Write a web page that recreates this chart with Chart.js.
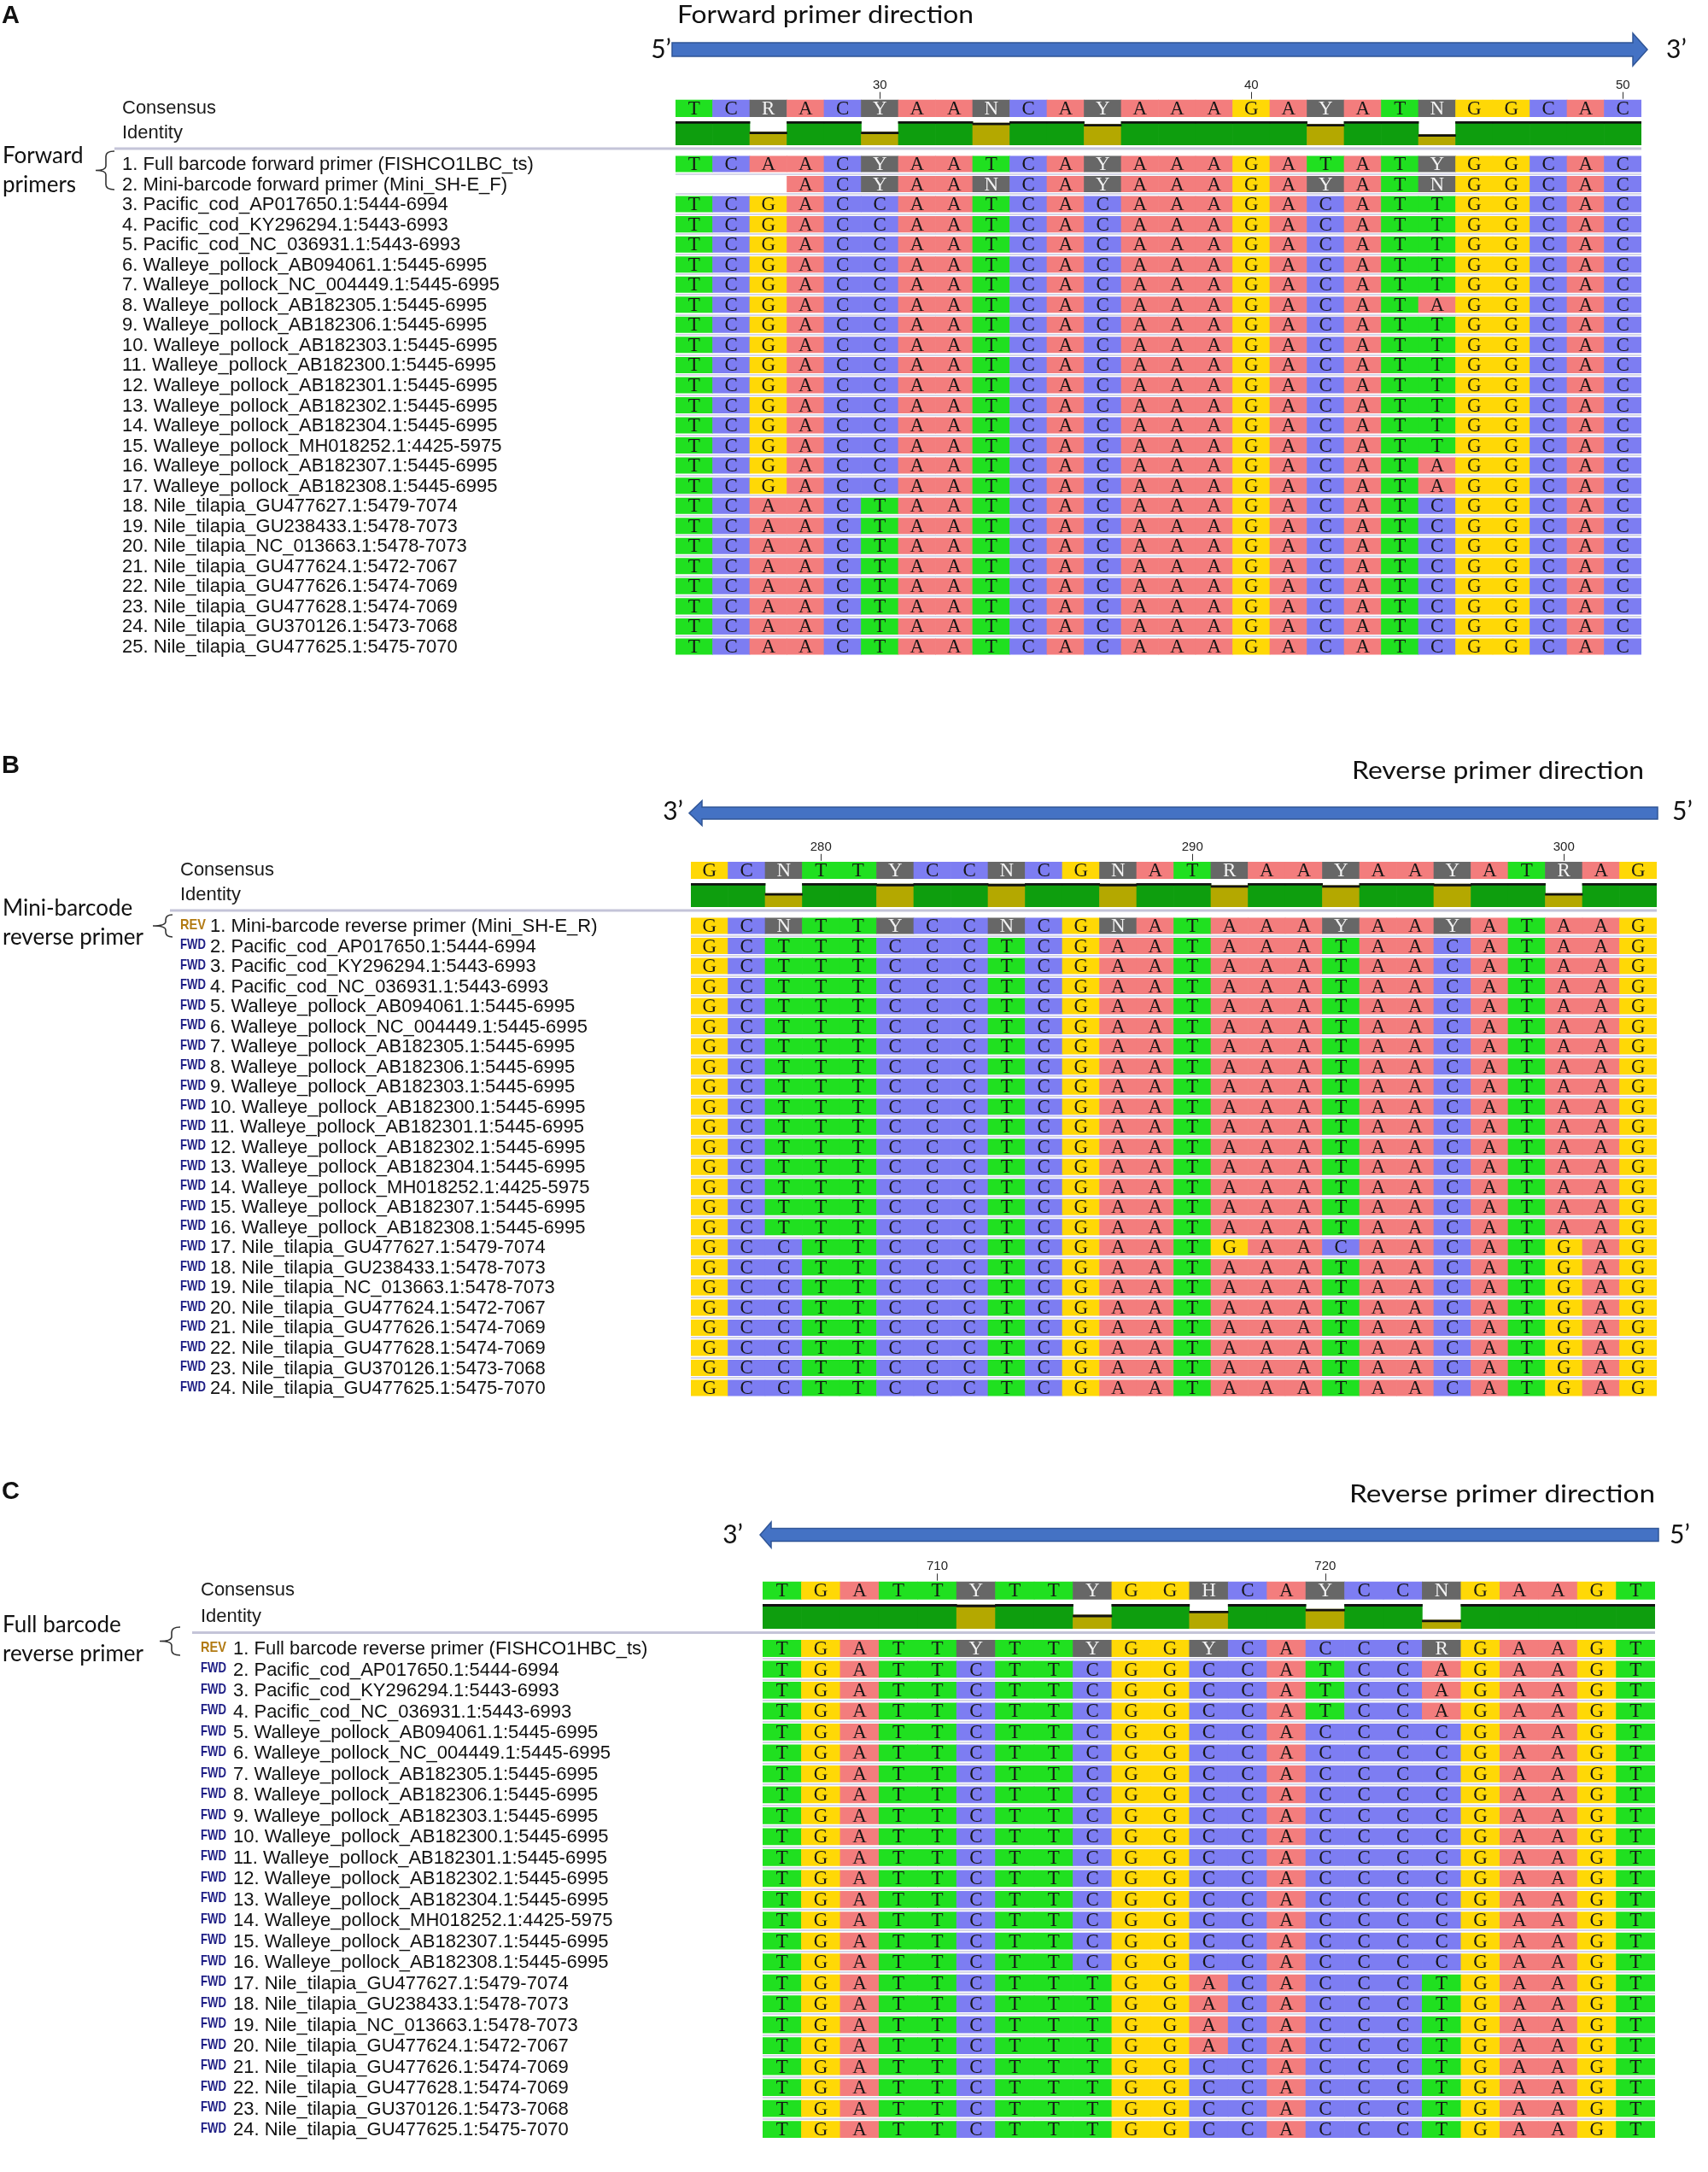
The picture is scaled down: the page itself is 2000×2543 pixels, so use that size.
<!DOCTYPE html>
<html>
<head>
<meta charset="utf-8">
<script src="https://cdn.jsdelivr.net/npm/chart.js@4"></script>
<style>
html, body { margin: 0; padding: 0; background: #fff; }
#page { position: relative; width: 2000px; height: 2543px; overflow: hidden; }
canvas { position: absolute; left: 0; }
</style>
</head>
<body>
<div id="page">
  <canvas id="chartA"></canvas>
  <canvas id="chartB"></canvas>
  <canvas id="chartC"></canvas>
</div>
<script>
// ---- data ----
const samples = [
    'Pacific_cod_AP017650.1:5444-6994', 'Pacific_cod_KY296294.1:5443-6993', 'Pacific_cod_NC_036931.1:5443-6993',
    'Walleye_pollock_AB094061.1:5445-6995', 'Walleye_pollock_NC_004449.1:5445-6995',
    'Walleye_pollock_AB182305.1:5445-6995', 'Walleye_pollock_AB182306.1:5445-6995',
    'Walleye_pollock_AB182303.1:5445-6995', 'Walleye_pollock_AB182300.1:5445-6995',
    'Walleye_pollock_AB182301.1:5445-6995', 'Walleye_pollock_AB182302.1:5445-6995',
    'Walleye_pollock_AB182304.1:5445-6995', 'Walleye_pollock_MH018252.1:4425-5975',
    'Walleye_pollock_AB182307.1:5445-6995', 'Walleye_pollock_AB182308.1:5445-6995',
    'Nile_tilapia_GU477627.1:5479-7074', 'Nile_tilapia_GU238433.1:5478-7073',
    'Nile_tilapia_NC_013663.1:5478-7073', 'Nile_tilapia_GU477624.1:5472-7067',
    'Nile_tilapia_GU477626.1:5474-7069', 'Nile_tilapia_GU477628.1:5474-7069',
    'Nile_tilapia_GU370126.1:5473-7068', 'Nile_tilapia_GU477625.1:5475-7070'
];
const namesA = ['Full barcode forward primer (FISHCO1LBC_ts)', 'Mini-barcode forward primer (Mini_SH-E_F)'].concat(samples);
const namesB = ['Mini-barcode reverse primer (Mini_SH-E_R)'].concat(samples);
const namesC = ['Full barcode reverse primer (FISHCO1HBC_ts)'].concat(samples);
const tagsA = [];
const tagsB = ['REV'].concat(samples.map(() => 'FWD'));
const tagsC = ['REV'].concat(samples.map(() => 'FWD'));

// panel A: forward primers, alignment positions 25-50
const colsA = [25, 26, 27, 28, 29, 30, 31, 32, 33, 34, 35, 36, 37, 38, 39, 40, 41, 42, 43, 44, 45, 46, 47, 48, 49, 50];
const ticksA = [30, 40, 50];
const consA = 'TCRACYAANCAYAAAGAYATNGGCAC';
const identA = [1, 1, 0.55, 1, 1, 0.55, 1, 1, 0.94, 1, 1, 0.88, 1, 1, 1, 1, 1, 0.88, 1, 1, 0.44, 1, 1, 1, 1, 1];
const seqA = [
    'TCAACYAATCAYAAAGATATYGGCAC',
    '---ACYAANCAYAAAGAYATNGGCAC',
    'TCGACCAATCACAAAGACATTGGCAC',
    'TCGACCAATCACAAAGACATTGGCAC',
    'TCGACCAATCACAAAGACATTGGCAC',
    'TCGACCAATCACAAAGACATTGGCAC',
    'TCGACCAATCACAAAGACATTGGCAC',
    'TCGACCAATCACAAAGACATAGGCAC',
    'TCGACCAATCACAAAGACATTGGCAC',
    'TCGACCAATCACAAAGACATTGGCAC',
    'TCGACCAATCACAAAGACATTGGCAC',
    'TCGACCAATCACAAAGACATTGGCAC',
    'TCGACCAATCACAAAGACATTGGCAC',
    'TCGACCAATCACAAAGACATTGGCAC',
    'TCGACCAATCACAAAGACATTGGCAC',
    'TCGACCAATCACAAAGACATAGGCAC',
    'TCGACCAATCACAAAGACATAGGCAC',
    'TCAACTAATCACAAAGACATCGGCAC',
    'TCAACTAATCACAAAGACATCGGCAC',
    'TCAACTAATCACAAAGACATCGGCAC',
    'TCAACTAATCACAAAGACATCGGCAC',
    'TCAACTAATCACAAAGACATCGGCAC',
    'TCAACTAATCACAAAGACATCGGCAC',
    'TCAACTAATCACAAAGACATCGGCAC',
    'TCAACTAATCACAAAGACATCGGCAC'
];

// panel B: mini-barcode reverse primer, positions 277-302
const colsB = [277, 278, 279, 280, 281, 282, 283, 284, 285, 286, 287, 288, 289, 290, 291, 292, 293, 294, 295, 296, 297, 298, 299, 300, 301, 302];
const ticksB = [280, 290, 300];
const consB = 'GCNTTYCCNCGNATRAAYAAYATRAG';
const identB = [1, 1, 0.57, 1, 1, 0.97, 1, 1, 0.97, 1, 1, 0.97, 1, 1, 0.91, 1, 1, 0.91, 1, 1, 0.97, 1, 1, 0.57, 1, 1];
const seqB = [
    'GCNTTYCCNCGNATAAAYAAYATAAG',
    'GCTTTCCCTCGAATAAATAACATAAG',
    'GCTTTCCCTCGAATAAATAACATAAG',
    'GCTTTCCCTCGAATAAATAACATAAG',
    'GCTTTCCCTCGAATAAATAACATAAG',
    'GCTTTCCCTCGAATAAATAACATAAG',
    'GCTTTCCCTCGAATAAATAACATAAG',
    'GCTTTCCCTCGAATAAATAACATAAG',
    'GCTTTCCCTCGAATAAATAACATAAG',
    'GCTTTCCCTCGAATAAATAACATAAG',
    'GCTTTCCCTCGAATAAATAACATAAG',
    'GCTTTCCCTCGAATAAATAACATAAG',
    'GCTTTCCCTCGAATAAATAACATAAG',
    'GCTTTCCCTCGAATAAATAACATAAG',
    'GCTTTCCCTCGAATAAATAACATAAG',
    'GCTTTCCCTCGAATAAATAACATAAG',
    'GCCTTCCCTCGAATGAACAACATGAG',
    'GCCTTCCCTCGAATAAATAACATGAG',
    'GCCTTCCCTCGAATAAATAACATGAG',
    'GCCTTCCCTCGAATAAATAACATGAG',
    'GCCTTCCCTCGAATAAATAACATGAG',
    'GCCTTCCCTCGAATAAATAACATGAG',
    'GCCTTCCCTCGAATAAATAACATGAG',
    'GCCTTCCCTCGAATAAATAACATGAG'
];

// panel C: full barcode reverse primer, positions 706-728
const colsC = [706, 707, 708, 709, 710, 711, 712, 713, 714, 715, 716, 717, 718, 719, 720, 721, 722, 723, 724, 725, 726, 727, 728];
const ticksC = [710, 720];
const consC = 'TGATTYTTYGGHCAYCCNGAAGT';
const identC = [1, 1, 1, 1, 1, 0.97, 1, 1, 0.56, 1, 1, 0.72, 1, 1, 0.8, 1, 1, 0.35, 1, 1, 1, 1, 1];
const seqC = [
    'TGATTYTTYGGYCACCCRGAAGT',
    'TGATTCTTCGGCCATCCAGAAGT',
    'TGATTCTTCGGCCATCCAGAAGT',
    'TGATTCTTCGGCCATCCAGAAGT',
    'TGATTCTTCGGCCACCCCGAAGT',
    'TGATTCTTCGGCCACCCCGAAGT',
    'TGATTCTTCGGCCACCCCGAAGT',
    'TGATTCTTCGGCCACCCCGAAGT',
    'TGATTCTTCGGCCACCCCGAAGT',
    'TGATTCTTCGGCCACCCCGAAGT',
    'TGATTCTTCGGCCACCCCGAAGT',
    'TGATTCTTCGGCCACCCCGAAGT',
    'TGATTCTTCGGCCACCCCGAAGT',
    'TGATTCTTCGGCCACCCCGAAGT',
    'TGATTCTTCGGCCACCCCGAAGT',
    'TGATTCTTCGGCCACCCCGAAGT',
    'TGATTCTTTGGACACCCTGAAGT',
    'TGATTCTTTGGACACCCTGAAGT',
    'TGATTCTTTGGACACCCTGAAGT',
    'TGATTCTTTGGACACCCTGAAGT',
    'TGATTCTTTGGCCACCCTGAAGT',
    'TGATTCTTTGGCCACCCTGAAGT',
    'TGATTCTTTGGCCACCCTGAAGT',
    'TGATTCTTTGGCCACCCTGAAGT'
];

// ---- styling ----
const BASE_COLOURS = { A: '#F37D7D', C: '#7D7DF2', G: '#FFD806', T: '#20E020' };
const AMBIG = '#676767';
const ID_GREEN = '#0E9E0E';
const ID_OLIVE = '#B4A800';
const baseColour = ch => ch === '-' ? 'rgba(0,0,0,0)' : (BASE_COLOURS[ch] || AMBIG);

// row units: sequence row r sits at value r (1-based)
const Y_MIN = -3.3;
const HALF = 0.39;
const CONS_ROW = [-2.18, -1.35];
const ID_TOP = -1.11;
const ID_BOTTOM = 0.05;
const SEP_ROW = 0.24;

const LABEL_FONT = '22px "Liberation Sans", Arial, sans-serif';
const GROUP_FONT = '26px Lato, "Open Sans", sans-serif';
const LETTER_FONT = '23px "Liberation Serif", "DejaVu Serif", serif';

const layoutA = {
    id: 'chartA', top: 0, height: 820, row1: 192, pitch: 23.54, gridLeft: 791, gridRight: 1922,
    letter: { t: 'A', y: 19 },
    heading: { t: 'Forward primer direction', x: 793, y: 18, w: 347, align: 'left' },
    arrow: { x0: 787, x1: 1929, y: 58, dir: 'right', shaft: 8, head: 19, len: 17 },
    ends: [{ t: '5’', x: 786, y: 58, align: 'right' }, { t: '3’', x: 1951, y: 58, align: 'left' }],
    labelX: 143, textX: 143, sepX: 134,
    group: { lines: ['Forward', 'primers'], y: [183, 217] },
    bracket: { tip: 112, xv: 124, right: 134, top: 177, bottom: 222 }
};
const layoutB = {
    id: 'chartB', top: 830, height: 850, row1: 1084, pitch: 23.52, gridLeft: 809, gridRight: 1940,
    letter: { t: 'B', y: 897 },
    heading: { t: 'Reverse primer direction', x: 1925, y: 903, w: 342, align: 'right' },
    arrow: { x0: 807, x1: 1941, y: 952, dir: 'left', shaft: 7, head: 14.5, len: 15 },
    ends: [{ t: '3’', x: 800, y: 950, align: 'right' }, { t: '5’', x: 1958, y: 950, align: 'left' }],
    labelX: 211, textX: 246, sepX: 199,
    group: { lines: ['Mini-barcode', 'reverse primer'], y: [1064, 1098] },
    bracket: { tip: 179, xv: 194, right: 202, top: 1071, bottom: 1097 }
};
const layoutC = {
    id: 'chartC', top: 1690, height: 853, row1: 1930, pitch: 24.48, gridLeft: 893, gridRight: 1938,
    letter: { t: 'C', y: 1747 },
    heading: { t: 'Reverse primer direction', x: 1938, y: 1750, w: 358, align: 'right' },
    arrow: { x0: 890, x1: 1942, y: 1797, dir: 'left', shaft: 7.5, head: 15, len: 13 },
    ends: [{ t: '3’', x: 870, y: 1797, align: 'right' }, { t: '5’', x: 1955, y: 1797, align: 'left' }],
    labelX: 235, textX: 273, sepX: 225,
    group: { lines: ['Full barcode', 'reverse primer'], y: [1903, 1937] },
    bracket: { tip: 187, xv: 201, right: 211, top: 1905, bottom: 1938 }
};

// ---- drawing helpers ----
function fitText(ctx, text, x, y, font, width, align) {
    ctx.save();
    ctx.font = font;
    const k = width / ctx.measureText(text).width;
    ctx.translate(align === 'right' ? x - width : x, y);
    ctx.scale(k, 1);
    ctx.textAlign = 'left';
    ctx.textBaseline = 'middle';
    ctx.fillText(text, 0, 0);
    ctx.restore();
}

function drawArrow(ctx, a, top) {
    const y = a.y - top;
    ctx.beginPath();
    if (a.dir === 'right') {
        const hx = a.x1 - a.len;
        ctx.moveTo(a.x0, y - a.shaft);
        ctx.lineTo(hx, y - a.shaft);
        ctx.lineTo(hx, y - a.head);
        ctx.lineTo(a.x1, y);
        ctx.lineTo(hx, y + a.head);
        ctx.lineTo(hx, y + a.shaft);
        ctx.lineTo(a.x0, y + a.shaft);
    } else {
        const hx = a.x0 + a.len;
        ctx.moveTo(a.x1, y - a.shaft);
        ctx.lineTo(hx, y - a.shaft);
        ctx.lineTo(hx, y - a.head);
        ctx.lineTo(a.x0, y);
        ctx.lineTo(hx, y + a.head);
        ctx.lineTo(hx, y + a.shaft);
        ctx.lineTo(a.x1, y + a.shaft);
    }
    ctx.closePath();
    ctx.fillStyle = '#4472C4';
    ctx.fill();
    ctx.strokeStyle = '#2F5597';
    ctx.lineWidth = 1.5;
    ctx.stroke();
}

function drawBracket(ctx, b, top) {
    const t = b.top - top, bt = b.bottom - top, mid = (t + bt) / 2;
    ctx.beginPath();
    ctx.moveTo(b.right, t);
    ctx.quadraticCurveTo(b.xv, t, b.xv, t + 6);
    ctx.lineTo(b.xv, mid - 5);
    ctx.quadraticCurveTo(b.xv, mid, b.tip, mid);
    ctx.quadraticCurveTo(b.xv, mid, b.xv, mid + 5);
    ctx.lineTo(b.xv, bt - 6);
    ctx.quadraticCurveTo(b.xv, bt, b.right, bt);
    ctx.strokeStyle = '#333';
    ctx.lineWidth = 1.6;
    ctx.stroke();
}

// letters inside every cell, placed on the bar elements
const letterPlugin = {
    id: 'cellLetters',
    afterDatasetsDraw(chart) {
        const ctx = chart.ctx;
        ctx.save();
        ctx.font = LETTER_FONT;
        ctx.textAlign = 'center';
        ctx.textBaseline = 'middle';
        chart.data.datasets.forEach((ds, i) => {
            if (!ds.letters) return;
            chart.getDatasetMeta(i).data.forEach((bar, j) => {
                const ch = ds.letters[j];
                if (!ch || ch === '-') return;
                ctx.fillStyle = BASE_COLOURS[ch] ? '#161616' : '#F2F2F2';
                ctx.fillText(ch, bar.x, (bar.y + bar.base) / 2 + 1);
            });
        });
        ctx.restore();
    }
};

function makeChart(L, cols, ticks, cons, ident, seqs, names, tags) {
    const canvas = document.getElementById(L.id);
    canvas.width = 2000;
    canvas.height = L.height;
    canvas.style.top = L.top + 'px';

    const n = seqs.length;
    const yMax = n + 0.6;
    const local = L.row1 - L.top;
    const padTop = local - (1 - Y_MIN) * L.pitch;
    const padBottom = L.height - (local + (yMax - 1) * L.pitch);
    const bounds = seqs.slice(1).map((s, r) => r + 1.5);
    const idLevel = v => ID_BOTTOM - v * (ID_BOTTOM - ID_TOP);

    const datasets = [];
    datasets.push({ data: ident.map(v => [idLevel(v), idLevel(v) + 0.09]), backgroundColor: '#111' });
    datasets.push({ data: ident.map(v => [ID_BOTTOM, idLevel(v)]),
        backgroundColor: ident.map(v => v >= 0.999 ? ID_GREEN : ID_OLIVE) });
    datasets.push({ data: cols.map(() => CONS_ROW), backgroundColor: [...cons].map(baseColour), letters: cons });
    seqs.forEach((s, r) => {
        datasets.push({
            data: [...s].map(ch => ch === '-' ? null : [r + 1 - HALF, r + 1 + HALF]),
            backgroundColor: [...s].map(baseColour),
            letters: s
        });
    });

    const decor = {
        id: 'decor',
        afterDraw(chart) {
            const ctx = chart.ctx;
            const xs = chart.scales.x, ys = chart.scales.y;
            const T = L.top;
            ctx.save();
            ctx.fillStyle = '#111';

            // panel letter
            ctx.font = 'bold 29px "Liberation Sans", Arial, sans-serif';
            ctx.textAlign = 'left';
            ctx.textBaseline = 'middle';
            ctx.fillText(L.letter.t, 2, L.letter.y - T);

            // primer direction heading, arrow and strand ends
            fitText(ctx, L.heading.t, L.heading.x, L.heading.y - T, '28px Lato, "Open Sans", sans-serif', L.heading.w, L.heading.align);
            drawArrow(ctx, L.arrow, T);
            ctx.fillStyle = '#111';
            ctx.font = '30px Lato, "Open Sans", sans-serif';
            L.ends.forEach(e => {
                ctx.textAlign = e.align;
                ctx.fillText(e.t, e.x, e.y - T);
            });

            // position ruler
            ctx.font = '15px "Liberation Sans", Arial, sans-serif';
            ctx.textAlign = 'center';
            ctx.fillStyle = '#222';
            ctx.strokeStyle = '#333';
            ctx.lineWidth = 1;
            ticks.forEach(t => {
                const x = xs.getPixelForValue(cols.indexOf(t));
                ctx.fillText(String(t), x, ys.getPixelForValue(-2.92));
                ctx.beginPath();
                ctx.moveTo(Math.round(x) + 0.5, ys.getPixelForValue(-2.58));
                ctx.lineTo(Math.round(x) + 0.5, ys.getPixelForValue(-2.24));
                ctx.stroke();
            });

            // consensus / identity labels and separator
            ctx.font = LABEL_FONT;
            ctx.textAlign = 'left';
            ctx.fillStyle = '#1a1a1a';
            ctx.fillText('Consensus', L.labelX, ys.getPixelForValue((CONS_ROW[0] + CONS_ROW[1]) / 2));
            ctx.fillText('Identity', L.labelX, ys.getPixelForValue((ID_TOP + ID_BOTTOM) / 2));
            ctx.strokeStyle = '#C4C4D8';
            ctx.lineWidth = 3;
            ctx.beginPath();
            ctx.moveTo(L.sepX, ys.getPixelForValue(SEP_ROW));
            ctx.lineTo(L.gridRight, ys.getPixelForValue(SEP_ROW));
            ctx.stroke();

            // sequence names
            names.forEach((name, r) => {
                const y = ys.getPixelForValue(r + 1);
                if (tags[r]) {
                    ctx.fillStyle = tags[r] === 'REV' ? '#B27A12' : '#1C1C84';
                    fitText(ctx, tags[r], L.labelX, y - 1, 'bold 17px "Liberation Sans", Arial, sans-serif', 30, 'left');
                }
                ctx.font = LABEL_FONT;
                ctx.textAlign = 'left';
                ctx.fillStyle = '#111';
                ctx.fillText((r + 1) + '. ' + name, L.textX, y + 1);
            });

            // primer group label with brace
            ctx.font = GROUP_FONT;
            ctx.fillStyle = '#111';
            L.group.lines.forEach((s, i) => ctx.fillText(s, 3, L.group.y[i] - T));
            drawBracket(ctx, L.bracket, T);
            ctx.restore();
        }
    };

    return new Chart(canvas.getContext('2d'), {
        type: 'bar',
        data: { labels: cols.map(String), datasets: datasets },
        options: {
            responsive: false,
            animation: false,
            devicePixelRatio: 1,
            layout: { padding: { left: L.gridLeft, right: 2000 - L.gridRight, top: padTop, bottom: padBottom } },
            datasets: { bar: { grouped: false, categoryPercentage: 1, barPercentage: 1, borderWidth: 0 } },
            plugins: { legend: { display: false }, tooltip: { enabled: false } },
            scales: {
                x: { type: 'category', display: false, offset: true },
                y: {
                    type: 'linear', reverse: true, min: Y_MIN, max: yMax, stacked: false,
                    ticks: { display: false },
                    border: { display: false },
                    grid: { color: '#D6D6E8', lineWidth: 2, drawTicks: false },
                    afterBuildTicks: s => { s.ticks = bounds.map(v => ({ value: v })); },
                    afterFit: s => { s.width = 0; }
                }
            }
        },
        plugins: [letterPlugin, decor]
    });
}

// Forward primers
makeChart(layoutA, colsA, ticksA, consA, identA, seqA, namesA, tagsA);
// Mini-barcode reverse primer
makeChart(layoutB, colsB, ticksB, consB, identB, seqB, namesB, tagsB);
// Full barcode reverse primer
makeChart(layoutC, colsC, ticksC, consC, identC, seqC, namesC, tagsC);
</script>
</body>
</html>
